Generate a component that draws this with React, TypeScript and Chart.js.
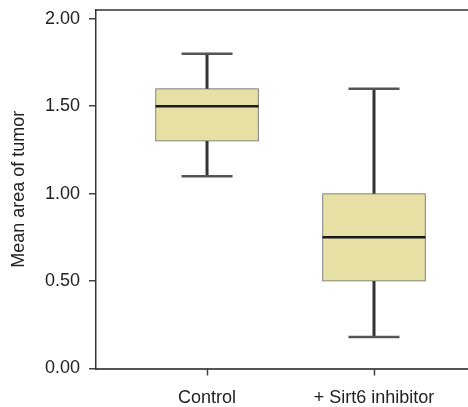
import React, { useEffect, useRef } from "react";
import { Chart, registerables } from "chart.js";

Chart.register(...registerables);

const categories = ["Control", "+ Sirt6 inhibitor"];
const whiskerMin = [1.1, 0.18];
const q1 = [1.3, 0.5];
const median = [1.5, 0.75];
const q3 = [1.6, 1.0];
const whiskerMax = [1.8, 1.6];
const yTicks = [0, 0.5, 1.0, 1.5, 2.0];

const FONT = "'Liberation Sans', Arial, Helvetica, sans-serif";

const boxPlugin = {
  id: "boxParts",
  beforeDatasetsDraw(chart: any) {
    const { ctx, scales } = chart;
    const x = scales.x;
    const y = scales.y;
    ctx.save();
    categories.forEach((_, i) => {
      const cx = x.getPixelForValue(i + 1);
      const yMin = y.getPixelForValue(whiskerMin[i]);
      const yMax = y.getPixelForValue(whiskerMax[i]);
      ctx.strokeStyle = "#333333";
      ctx.lineWidth = 3;
      ctx.beginPath();
      ctx.moveTo(cx, yMin);
      ctx.lineTo(cx, yMax);
      ctx.stroke();
      ctx.strokeStyle = "#555555";
      ctx.lineWidth = 2.5;
      const half = 25.5;
      ctx.beginPath();
      ctx.moveTo(cx - half, yMin);
      ctx.lineTo(cx + half, yMin);
      ctx.moveTo(cx - half, yMax);
      ctx.lineTo(cx + half, yMax);
      ctx.stroke();
    });
    ctx.restore();
  },
  afterDatasetsDraw(chart: any) {
    const { ctx, scales, chartArea } = chart;
    const x = scales.x;
    const y = scales.y;
    const meta = chart.getDatasetMeta(0);
    ctx.save();
    categories.forEach((_, i) => {
      const bar = meta.data[i];
      const w = bar.width;
      const cx = x.getPixelForValue(i + 1);
      const ym = y.getPixelForValue(median[i]);
      ctx.strokeStyle = "#1a1a1a";
      ctx.lineWidth = 2.5;
      ctx.beginPath();
      ctx.moveTo(cx - w / 2, ym);
      ctx.lineTo(cx + w / 2, ym);
      ctx.stroke();
    });
    ctx.strokeStyle = "#333333";
    ctx.lineWidth = 1.5;
    ctx.beginPath();
    ctx.moveTo(chartArea.left, chartArea.top);
    ctx.lineTo(chartArea.right, chartArea.top);
    ctx.stroke();
    // category tick marks below the x axis, placed by the x scale
    ctx.strokeStyle = "#444444";
    ctx.lineWidth = 1.5;
    ctx.beginPath();
    x.ticks.forEach((t: any) => {
      const px = Math.round(x.getPixelForValue(t.value)) + 0.5;
      ctx.moveTo(px, chartArea.bottom);
      ctx.lineTo(px, chartArea.bottom + 7);
    });
    ctx.stroke();
    ctx.restore();
  },
};

export default function App() {
  const ref = useRef<HTMLCanvasElement | null>(null);

  useEffect(() => {
    document.body.style.margin = "0";
    const canvas = ref.current;
    if (!canvas) return;
    const chart = new Chart(canvas, {
      type: "bar",
      data: {
        datasets: [
          {
            data: categories.map((_, i) => ({ x: i + 1, y: [q1[i], q3[i]] })) as any,
            backgroundColor: "#e6e0a4",
            borderColor: "#666666",
            borderWidth: 1,
            borderSkipped: false,
            barThickness: 103,
          },
        ],
      },
      options: {
        responsive: false,
        animation: false,
        events: [],
        layout: { padding: { top: 10, right: 0, bottom: 0, left: 0 } },
        plugins: {
          legend: { display: false },
          tooltip: { enabled: false },
        },
        scales: {
          x: {
            type: "linear",
            bounds: "data",
            offset: false,
            min: 0.335,
            max: 2.563,
            afterBuildTicks: (axis: any) => {
              axis.ticks = categories.map((_, i) => ({ value: i + 1 }));
            },
            afterFit: (axis: any) => {
              axis.height = 38.5;
              axis.paddingLeft = 0;
              axis.paddingRight = 0;
            },
            ticks: {
              includeBounds: false,
              stepSize: 1,
              callback: (v: any) => categories[Number(v) - 1] ?? "",
              font: { family: FONT, size: 18 },
              color: "#222222",
              padding: 11,
              maxRotation: 0,
              autoSkip: false,
            },
            grid: {
              display: false,
            },
            border: { display: true, color: "#555555", width: 2 },
          },
          y: {
            type: "linear",
            bounds: "data",
            min: 0,
            max: 2.05,
            afterBuildTicks: (axis: any) => {
              axis.ticks = yTicks.map((v) => ({ value: v }));
            },
            afterFit: (axis: any) => {
              axis.width = 96;
              axis.paddingTop = 0;
              axis.paddingBottom = 0;
            },
            ticks: {
              includeBounds: false,
              callback: (v: any) => Number(v).toFixed(2),
              font: { family: FONT, size: 18 },
              color: "#222222",
              padding: 9,
            },
            grid: {
              display: true,
              offset: false,
              drawOnChartArea: false,
              drawTicks: true,
              tickLength: 7,
              color: "#444444",
              lineWidth: 1.5,
            },
            border: { display: true, color: "#333333", width: 1.5 },
            title: {
              display: true,
              text: "Mean area of tumor",
              font: { family: FONT, size: 18 },
              color: "#222222",
              padding: { top: 8, bottom: 4 },
            },
          },
        },
      },
      plugins: [boxPlugin],
    });
    return () => chart.destroy();
  }, []);

  return (
    <div style={{ width: 468, height: 407 }}>
      <canvas ref={ref} width={468} height={407} style={{ display: "block" }} />
    </div>
  );
}
